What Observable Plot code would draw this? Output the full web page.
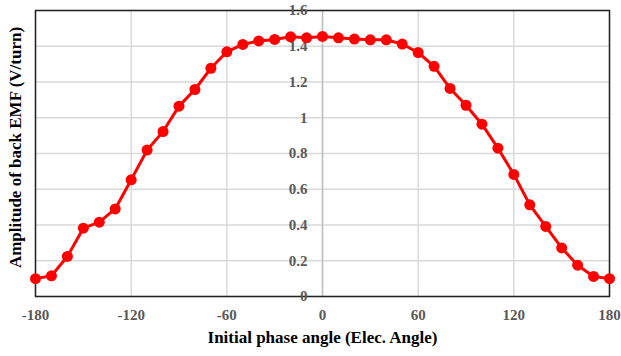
<!DOCTYPE html>
<html>
<head>
<meta charset="utf-8">
<script src="https://cdn.jsdelivr.net/npm/d3@7"></script>
<script src="https://cdn.jsdelivr.net/npm/@observablehq/plot@0.6"></script>
<style>
  html, body { margin: 0; padding: 0; background: #fff; }
  #chart { width: 621px; height: 356px; }
</style>
</head>
<body>
<div id="chart"></div>
<script>
const angles = [-180,-170,-160,-150,-140,-130,-120,-110,-100,-90,-80,-70,-60,-50,-40,-30,-20,-10,0,10,20,30,40,50,60,70,80,90,100,110,120,130,140,150,160,170,180];
const amplitude = [0.100,0.116,0.224,0.382,0.416,0.490,0.653,0.819,0.923,1.065,1.158,1.277,1.369,1.410,1.430,1.438,1.453,1.447,1.455,1.447,1.440,1.436,1.436,1.412,1.365,1.288,1.164,1.070,0.964,0.830,0.683,0.513,0.392,0.272,0.175,0.112,0.100];
const xTicks = [-180,-120,-60,0,60,120,180];
const yTicks = [0,0.2,0.4,0.6,0.8,1,1.2,1.4,1.6];
const xTitle = "Initial phase angle (Elec. Angle)";
const yTitle = "Amplitude of back EMF (V/turn)";

const data = angles.map((a, i) => ({angle: a, amp: amplitude[i]}));
const font = "'Liberation Serif', 'Times New Roman', serif";

const chart = Plot.plot({
  width: 621,
  height: 356,
  marginLeft: 35,
  marginRight: 12,
  marginTop: 10,
  marginBottom: 60,
  style: {fontFamily: font, background: "#fff", overflow: "visible"},
  x: {domain: [-180, 180]},
  y: {domain: [0, 1.6]},
  marks: [
    Plot.gridX(xTicks, {stroke: "#d9d9d9", strokeOpacity: 1, strokeWidth: 1.5}),
    Plot.gridY(yTicks, {stroke: "#d9d9d9", strokeOpacity: 1, strokeWidth: 1.5}),
    Plot.ruleX([0], {stroke: "#bfbfbf", strokeWidth: 1.5}),
    Plot.frame({stroke: "#222", strokeWidth: 1.5}),
    Plot.text(yTicks, {x: 0, y: d => d, text: d => String(d), textAnchor: "end", dx: -15,
      fill: "#595959", fontWeight: "bold", fontSize: 15}),
    Plot.axisX({ticks: xTicks, tickSize: 0, tickPadding: 13, fontSize: 15, fontWeight: "bold",
      color: "#595959", label: null, tickFormat: d => String(d)}),
    Plot.axisY({ticks: [], label: null}),
    Plot.line(data, {x: "angle", y: "amp", stroke: "#ff0000", strokeWidth: 3}),
    Plot.dot(data, {x: "angle", y: "amp", r: 5.5, fill: "#ff0000", stroke: "none"}),
    Plot.text([xTitle], {frameAnchor: "bottom", dy: 46, text: d => d, fontSize: 17, fontWeight: "bold", fill: "#000"}),
    Plot.text([yTitle], {frameAnchor: "left", dx: -20, dy: -6, textAnchor: "middle", rotate: -90, text: d => d, fontSize: 17, fontWeight: "bold", fill: "#000"})
  ]
});
document.getElementById("chart").appendChild(chart);
</script>
</body>
</html>
